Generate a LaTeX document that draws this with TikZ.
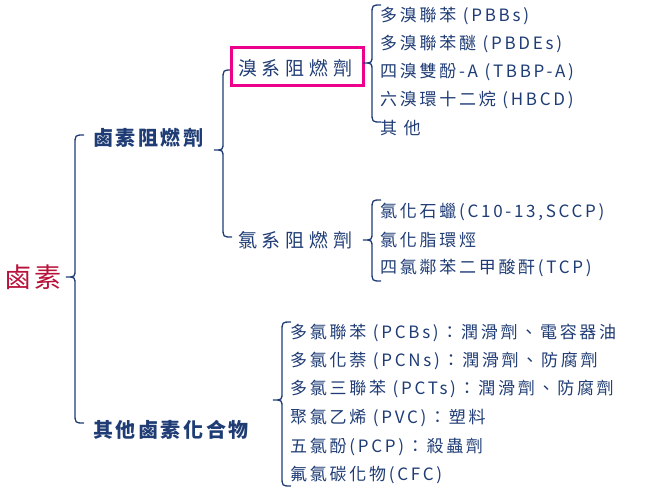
\documentclass[tikz,border=0pt]{standalone}
\usepackage{fontspec}
\setmainfont{Noto Sans CJK TC}
\definecolor{navy}{HTML}{1F3C75}
\definecolor{dred}{HTML}{B8123A}
\newcommand\mybrace[4]{% x, top, tip, bottom
  \draw[brace] ({#1+9},#2) .. controls (#1,#2) .. (#1,{#2+10}) -- (#1,{#3-8}) .. controls (#1,#3) .. ({#1-9},#3)
    .. controls (#1,#3) .. (#1,{#3+8}) -- (#1,{#4-10}) .. controls (#1,#4) .. ({#1+9},#4);}
\begin{document}
\begin{tikzpicture}[x=1pt,y=-1pt,
  brace/.style={draw=navy,line width=1.3pt},
  item/.style={anchor=west,text=navy,inner sep=0pt,font=\fontsize{17}{19}\selectfont\addfontfeature{LetterSpace=16}},
  head/.style={anchor=west,text=navy,inner sep=0pt,font=\fontsize{20}{23}\selectfont\bfseries\addfontfeature{LetterSpace=13}},
  sub/.style={anchor=west,text=navy,inner sep=0pt,font=\fontsize{19}{22}\selectfont\addfontfeature{LetterSpace=25}}]
\useasboundingbox (0,0) rectangle (646,495);
\node[anchor=west,text=dred,inner sep=0pt,font=\fontsize{27}{30}\selectfont\addfontfeature{LetterSpace=12}] (root) at (4,277) {鹵素};
\mybrace{75}{135}{277}{423}
\node[head] (h1) at (93,138) {鹵素阻燃劑};
\node[head] (h2) at (93,430) {其他鹵素化合物};
\mybrace{223}{70}{150}{237}
\node[sub] (b) at (238,68) {溴系阻燃劑};
\node[sub] (c) at (238,240) {氯系阻燃劑};
\draw[magenta,line width=3pt] (231,48) rectangle (363,86);
\mybrace{372}{5}{63}{122}
\node[item] (b1) at (380,16) {多溴聯苯 (PBBs)};
\node[item] (b2) at (380,44) {多溴聯苯醚 (PBDEs)};
\node[item] (b3) at (380,72) {四溴雙酚-A (TBBP-A)};
\node[item] (b4) at (380,100) {六溴環十二烷 (HBCD)};
\node[item] (b5) at (380,128) {其 他};
\mybrace{372}{200}{240}{281}
\node[item] (c1) at (380,212) {氯化石蠟(C10-13,SCCP)};
\node[item] (c2) at (380,240) {氯化脂環烴};
\node[item] (c3) at (380,268) {四氯鄰苯二甲酸酐(TCP)};
\mybrace{282}{322}{400}{486}
\node[item] (o1) at (290,333) {多氯聯苯 (PCBs)：潤滑劑、電容器油};
\node[item] (o2) at (290,361) {多氯化萘 (PCNs)：潤滑劑、防腐劑};
\node[item] (o3) at (290,389) {多氯三聯苯 (PCTs)：潤滑劑、防腐劑};
\node[item] (o4) at (290,418) {聚氯乙烯 (PVC)：塑料};
\node[item] (o5) at (290,447) {五氯酚(PCP)：殺蟲劑};
\node[item] (o6) at (290,475) {氟氯碳化物(CFC)};
\end{tikzpicture}
\end{document}
